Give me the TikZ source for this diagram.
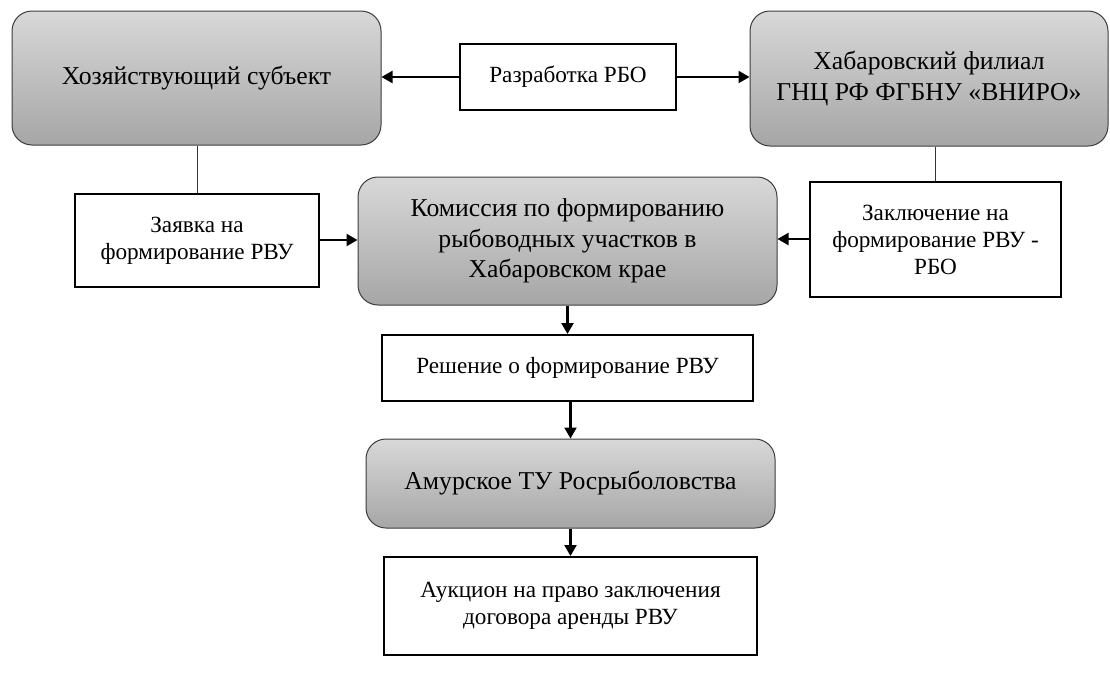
\documentclass[tikz,border=0pt]{standalone}
\usepackage{fontspec}
\setmainfont{Liberation Serif}
\usetikzlibrary{arrows.meta}
\definecolor{gtop}{RGB}{216,216,216}
\definecolor{gbot}{RGB}{166,166,166}
\definecolor{gedge}{RGB}{60,60,60}
\tikzset{
  graybox/.style={rectangle, rounded corners=20pt, draw=gedge, line width=1pt,
    top color=gtop, bottom color=gbot, align=center, inner sep=0pt,
    font=\fontsize{25.7}{30.5}\selectfont},
  whitebox/.style={rectangle, draw=black, line width=2pt, fill=white,
    align=center, inner sep=0pt, font=\fontsize{23.2}{27}\selectfont},
  arr/.style={line width=2.2pt, -{Triangle[length=11pt,width=12pt]}},
  thinline/.style={line width=0.8pt, draw=black!80}
}
\begin{document}
\begin{tikzpicture}[x=1pt,y=-1pt]
\useasboundingbox (0,0) rectangle (1110,672);
\node[graybox, minimum width=369pt, minimum height=134pt] (hoz) at (196.5,78) {Хозяйствующий субъект};
\node[whitebox, minimum width=216pt, minimum height=66pt] (razr) at (568,77) {Разработка РБО};
\node[graybox, minimum width=358pt, minimum height=135pt] (vniro) at (929,78.5) {Хабаровский филиал\\ГНЦ РФ ФГБНУ «ВНИРО»};
\node[whitebox, minimum width=244pt, minimum height=93pt] (zayav) at (197,240.5) {Заявка на\\формирование РВУ};
\node[graybox, minimum width=419pt, minimum height=128pt] (kom) at (567.5,241) {Комиссия по формированию\\рыбоводных участков в\\Хабаровском крае};
\node[whitebox, minimum width=251pt, minimum height=115pt] (zakl) at (935.5,239.5) {Заключение на\\формирование РВУ -\\РБО};
\node[whitebox, minimum width=371pt, minimum height=66pt] (resh) at (567.5,368) {Решение о формирование РВУ};
\node[graybox, minimum width=409pt, minimum height=89pt] (amur) at (570.5,483.5) {Амурское ТУ Росрыболовства};
\node[whitebox, minimum width=373pt, minimum height=98pt] (auk) at (570.5,606) {Аукцион на право заключения\\договора аренды РВУ};

\draw[arr] (razr.west) -- (hoz.east |- razr.west);
\draw[arr] (razr.east) -- (vniro.west |- razr.east);
\draw[thinline] (hoz.south -| zayav.north) -- (zayav.north);
\draw[thinline] (vniro.south -| zakl.north) -- (zakl.north);
\draw[arr] (zayav.east |- 0,240) -- (kom.west |- 0,240);
\draw[arr] (zakl.west |- 0,239) -- (kom.east |- 0,239);
\draw[arr] (kom.south) -- (resh.north);
\draw[arr] (resh.south -| amur.north) -- (amur.north);
\draw[arr] (amur.south) -- (auk.north);
\end{tikzpicture}
\end{document}
